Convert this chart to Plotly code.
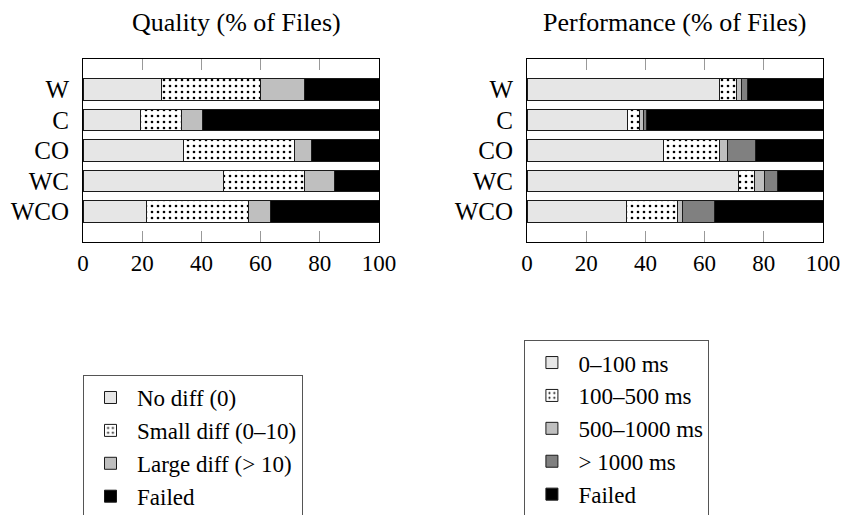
import plotly.graph_objects as go

categories = ["W", "C", "CO", "WC", "WCO"]

# Quality (% of files)
no_diff = [26.6, 19.5, 34.1, 47.4, 21.5]
small_diff = [33.4, 13.9, 37.5, 27.5, 34.4]
large_diff = [14.7, 7.0, 5.5, 9.9, 7.3]
failed_q = [25.3, 59.6, 22.9, 15.2, 36.8]

# Performance (% of files)
p_0_100 = [65.2, 34.1, 46.2, 71.5, 33.6]
p_100_500 = [5.7, 4.0, 19.0, 5.2, 17.1]
p_500_1000 = [1.7, 1.1, 2.7, 3.7, 2.0]
p_over_1000 = [1.9, 1.1, 9.2, 4.2, 10.5]
failed_p = [25.5, 59.7, 22.9, 15.4, 36.8]

x_ticks = [0, 20, 40, 60, 80, 100]

FONT = "'Liberation Serif', 'Times New Roman', Times, serif"
LIGHT = "#e6e6e6"
MID = "#bfbfbf"
DARK = "#808080"
LINE = dict(color="#1a1a1a", width=1)
DOTS = dict(shape=".", size=6, solidity=0.15, fgcolor="black", bgcolor="white", fillmode="replace")

fig = go.Figure()

def add(vals, name, color, xa, ya, legend, pattern=None):
    marker = dict(color=color, line=LINE)
    if pattern:
        marker = dict(color="white", line=LINE, pattern=pattern)
    fig.add_trace(go.Bar(
        y=categories, x=vals, name=name, orientation="h",
        marker=marker, width=0.71, xaxis=xa, yaxis=ya, legend=legend,
        hoverinfo="x+name",
    ))

add(no_diff, "No diff (0)", LIGHT, "x", "y", "legend")
add(small_diff, "Small diff (0–10)", "white", "x", "y", "legend", DOTS)
add(large_diff, "Large diff (> 10)", MID, "x", "y", "legend")
add(failed_q, "Failed", "black", "x", "y", "legend")

add(p_0_100, "0–100 ms", LIGHT, "x2", "y2", "legend2")
add(p_100_500, "100–500 ms", "white", "x2", "y2", "legend2", DOTS)
add(p_500_1000, "500–1000 ms", MID, "x2", "y2", "legend2")
add(p_over_1000, "> 1000 ms", DARK, "x2", "y2", "legend2")
add(failed_p, "Failed", "black", "x2", "y2", "legend2")

xcommon = dict(
    range=[0, 100], tickvals=x_ticks, ticks="inside", ticklen=11, tickcolor="#999999",
    showline=True, linecolor="black", linewidth=1, mirror="ticks", showgrid=False,
    zeroline=False, tickfont=dict(family=FONT, size=23, color="black"),
)
ycommon = dict(
    type="category", categoryorder="array", categoryarray=categories, range=[5, -1],
    showline=True, linecolor="black", linewidth=1, mirror=True, ticks="",
    showgrid=False, ticklabelstandoff=8, tickfont=dict(family=FONT, size=25, color="black"),
)

legend_common = dict(
    bordercolor="#555555", borderwidth=1, bgcolor="white",
    font=dict(family=FONT, size=23, color="black"),
    xanchor="left", yanchor="top", traceorder="normal", tracegroupgap=0,
    itemwidth=43,
)

# page body has an 8px margin, so the figure is sized 8px smaller than the window
fig.update_layout(
    width=841, height=507,
    margin=dict(l=75, r=26, t=51, b=273, autoexpand=False),
    paper_bgcolor="white", plot_bgcolor="white",
    barmode="stack",
    showlegend=True,
    xaxis=dict(domain=[0, 0.4], anchor="y", **xcommon),
    yaxis=dict(domain=[0, 1], anchor="x", **ycommon),
    xaxis2=dict(domain=[0.6, 1.0], anchor="y2", **xcommon),
    yaxis2=dict(domain=[0, 1], anchor="x2", **ycommon),
    legend=dict(x=0.0, y=-0.727, **legend_common),
    legend2=dict(x=0.5965, y=-0.536, **legend_common),
    annotations=[
        dict(text="Quality (% of Files)", xref="paper", yref="paper", x=0.207, y=1.2,
             xanchor="center", yanchor="middle", showarrow=False,
             font=dict(family=FONT, size=26, color="black")),
        dict(text="Performance (% of Files)", xref="paper", yref="paper", x=0.8, y=1.2,
             xanchor="center", yanchor="middle", showarrow=False,
             font=dict(family=FONT, size=26, color="black")),
    ],
)

fig.write_html("out.html")
